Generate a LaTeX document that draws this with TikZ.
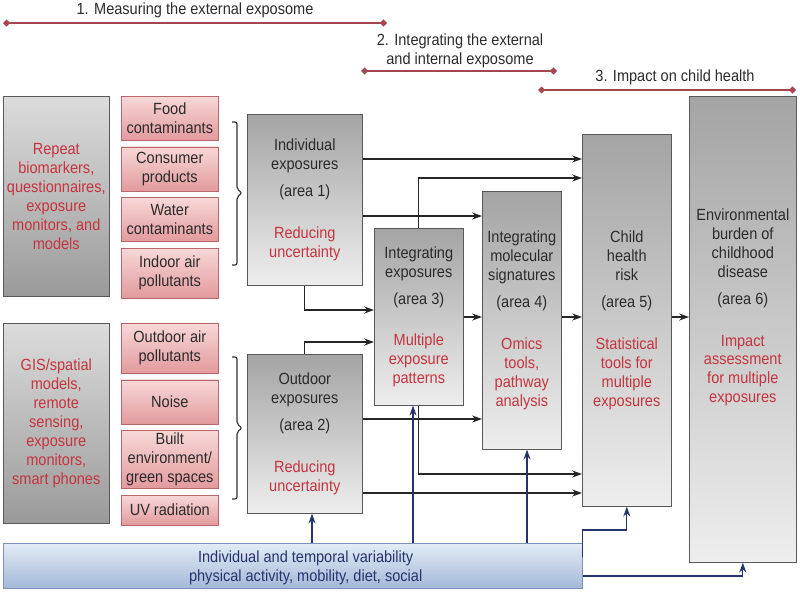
\documentclass[tikz,border=0pt]{standalone}
\usepackage{fontspec}
\setmainfont{Liberation Sans}[FakeStretch=0.9]
\usetikzlibrary{arrows.meta,positioning}

\definecolor{redtxt}{HTML}{C6343E}
\definecolor{txtgray}{HTML}{2B2B2B}
\definecolor{spanred}{HTML}{A5464F}
\definecolor{navy}{HTML}{26346B}
\definecolor{srctop}{HTML}{DCDCDC}
\definecolor{srcbot}{HTML}{9A9A9A}
\definecolor{pinktop}{HTML}{F8D8D8}
\definecolor{pinkbot}{HTML}{E29A9C}
\definecolor{pinkline}{HTML}{B8686C}
\definecolor{areatop}{HTML}{A4A4A4}
\definecolor{areabot}{HTML}{EEEEEE}
\definecolor{bluetop}{HTML}{E3ECF6}
\definecolor{bluebot}{HTML}{A3B8D8}
\definecolor{blueline}{HTML}{7A92BC}

\newcommand{\rl}[1]{\textcolor{redtxt}{#1}}

\begin{document}
\begin{tikzpicture}[x=0.025cm, y=-0.025cm,
font=\fontsize{11.5}{13.5}\selectfont,
srcbox/.style={draw=black!65, top color=srctop, bottom color=srcbot, anchor=north west, align=center, text=redtxt, minimum width=2.65cm, minimum height=5cm, inner sep=1pt},
pinkbox/.style={draw=pinkline, top color=pinktop, bottom color=pinkbot, align=center, text=txtgray, minimum width=2.425cm, inner sep=1pt},
areabox/.style={draw=black!65, top color=areatop, bottom color=areabot, anchor=north west, align=center, text=txtgray, inner sep=1pt},
arr/.style={-{Stealth[length=7pt,width=5pt]}, line width=0.9pt, draw=black!85},
barr/.style={-{Stealth[length=7pt,width=5pt]}, line width=0.75pt, draw=navy},
span/.style={{Diamond[length=5pt,width=5pt]}-{Diamond[length=5pt,width=5pt]}, line width=1pt, draw=spanred},
brace/.style={line width=0.8pt, draw=black!80, rounded corners=1.5pt}]

\useasboundingbox (0,0) rectangle (800,613);

% headings
\node[text=txtgray] (h1) at (195,10) {1. Measuring the external exposome};
\node[text=txtgray, align=center] (h2) at (460,51) {2. Integrating the external\\and internal exposome};
\node[text=txtgray] (h3) at (675,77) {3. Impact on child health};
\coordinate (h1l) at (3,23);   \coordinate (h1r) at (387,23);
\coordinate (h2l) at (361,71); \coordinate (h2r) at (557,71);
\coordinate (h3l) at (538,90); \coordinate (h3r) at (796,90);
\draw[span] (h1l) -- (h1r);
\draw[span] (h2l) -- (h2r);
\draw[span] (h3l) -- (h3r);

% sources
\node[srcbox] (repeat) at (3,96) {Repeat\\biomarkers,\\questionnaires,\\exposure\\monitors, and\\models};
\node[srcbox] (gis) at (3,323) {GIS/spatial\\models,\\remote\\sensing,\\exposure\\monitors,\\smart phones};

\node[pinkbox, anchor=north west, minimum height=1.1cm] (food) at (121,96) {Food\\contaminants};
\node[pinkbox, minimum height=1.1cm] (consumer) [below=0.15cm of food] {Consumer\\products};
\node[pinkbox, minimum height=1.1cm] (water) [below=0.15cm of consumer] {Water\\contaminants};
\node[pinkbox, minimum height=1.25cm] (indoor) [below=0.15cm of water] {Indoor air\\pollutants};

\node[pinkbox, anchor=north west, minimum height=1.25cm] (outdoor) at (121,323) {Outdoor air\\pollutants};
\node[pinkbox, minimum height=1.1cm] (noise) [below=0.15cm of outdoor] {Noise};
\node[pinkbox, minimum height=1.45cm] (built) [below=0.15cm of noise] {Built\\environment/\\green spaces};
\node[pinkbox, minimum height=0.75cm] (uv) [below=0.15cm of built] {UV radiation};

% braces
\coordinate (brA1) at (232,122); \coordinate (brA2) at (232,265);
\coordinate (brB1) at (232,357); \coordinate (brB2) at (232,499);
\draw[brace] (brA1) -- ++(5,0) -- ++(0,67) -- ++(5,4) -- ++(-5,4) -- (brA2 -| 237,0) -- (brA2);
\draw[brace] (brB1) -- ++(5,0) -- ++(0,67) -- ++(5,4) -- ++(-5,4) -- (brB2 -| 237,0) -- (brB2);

% areas
\node[areabox, minimum width=2.875cm, minimum height=4.275cm] (area1) at (247,114)
  {Individual\\exposures\\[0.2cm](area 1)\\[0.575cm]\rl{Reducing}\\\rl{uncertainty}};
\node[areabox, minimum width=2.875cm, minimum height=3.975cm] (area2) at (247,354)
  {Outdoor\\exposures\\[0.2cm](area 2)\\[0.575cm]\rl{Reducing}\\\rl{uncertainty}};
\node[areabox, minimum width=2.225cm, minimum height=4.425cm] (area3) at (374,228)
  {Integrating\\exposures\\[0.2cm](area 3)\\[0.575cm]\rl{Multiple}\\\rl{exposure}\\\rl{patterns}};
\node[areabox, minimum width=1.975cm, minimum height=6.45cm] (area4) at (482,191)
  {Integrating\\molecular\\signatures\\[0.2cm](area 4)\\[0.575cm]\rl{Omics}\\\rl{tools,}\\\rl{pathway}\\\rl{analysis}};
\node[areabox, minimum width=2.225cm, minimum height=9.3cm] (area5) at (582,134)
  {Child\\health\\risk\\[0.2cm](area 5)\\[0.575cm]\rl{Statistical}\\\rl{tools for}\\\rl{multiple}\\\rl{exposures}};
\node[areabox, minimum width=2.675cm, minimum height=11.65cm] (area6) at (689,96) {};
\node[align=center, text=txtgray, inner sep=1pt] (area6txt) at ([yshift=0.55cm]area6.center)
  {Environmental\\burden of\\childhood\\disease\\[0.2cm](area 6)\\[0.575cm]\rl{Impact}\\\rl{assessment}\\\rl{for multiple}\\\rl{exposures}};

% variability
\node[draw=blueline, top color=bluetop, bottom color=bluebot, anchor=north west,
  minimum width=14.475cm, minimum height=1.125cm] (var) at (3,543) {};
\node[align=center, text=navy, inner sep=1pt] (vartxt) at ([xshift=0.32cm, yshift=-0.05cm]var.center)
  {Individual and temporal variability\\physical activity, mobility, diet, social};

% black connectors
\draw[arr] (area1.east |- 0,159) -- (area5.west |- 0,159);
\draw[arr] (area3.north) |- (area5.west |- 0,178);
\draw[arr] (area1.east |- 0,216) -- (area4.west |- 0,216);
\draw[arr] (area1.south) |- (area3.west |- 0,310);
\draw[arr] (area2.north) |- (area3.west |- 0,342);
\draw[arr] (area3.east |- 0,317) -- (area4.west |- 0,317);
\draw[arr] (area4.east |- 0,317) -- (area5.west |- 0,317);
\draw[arr] (area5.east |- 0,317) -- (area6.west |- 0,317);
\draw[arr] (area2.east |- 0,419) -- (area4.west |- 0,419);
\draw[arr] (area3.south) |- (area5.west |- 0,474);
\draw[arr] (area2.east |- 0,493) -- (area5.west |- 0,493);

% blue connectors
\draw[barr] (var.north -| 312,0) -- (area2.south -| 312,0);
\draw[barr] (var.north -| 413,0) -- (area3.south -| 413,0);
\draw[barr] (var.north -| 527,0) -- (area4.south -| 527,0);
\draw[barr] (var.east |- 0,557) -- (var.east |- 0,530) -| (area5.south);
\draw[barr] (var.east |- 0,576) -| (area6.south);

\end{tikzpicture}
\end{document}
